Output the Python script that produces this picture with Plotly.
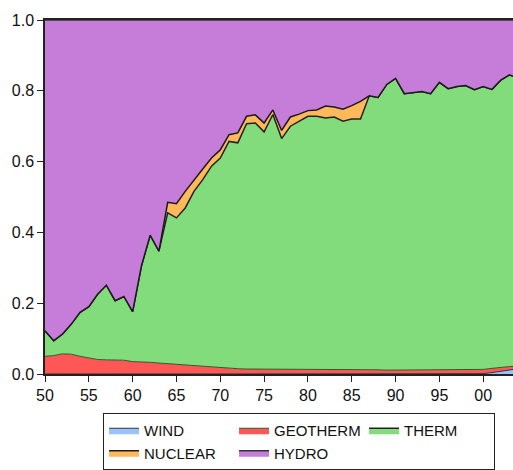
import plotly.graph_objects as go

years = list(range(1950, 2005))

wind = [0.0] * 50 + [0.001, 0.004, 0.008, 0.012, 0.015]

geotherm = [0.050, 0.052, 0.057, 0.056, 0.050, 0.045, 0.041, 0.040, 0.040, 0.039,
            0.035, 0.035, 0.033, 0.031, 0.029, 0.027, 0.025, 0.024, 0.022, 0.019,
            0.017, 0.016, 0.015, 0.014, 0.014, 0.014, 0.014, 0.013, 0.013, 0.013,
            0.013, 0.013, 0.012, 0.012, 0.012, 0.012, 0.012, 0.012, 0.012, 0.011,
            0.011, 0.011, 0.011, 0.011, 0.011, 0.011, 0.011, 0.012, 0.012, 0.013,
            0.012, 0.012, 0.011, 0.009, 0.007]

therm = [0.072, 0.042, 0.056, 0.085, 0.124, 0.145, 0.184, 0.211, 0.167, 0.180,
         0.141, 0.270, 0.359, 0.316, 0.426, 0.414, 0.444, 0.492, 0.527, 0.568,
         0.593, 0.641, 0.638, 0.693, 0.695, 0.670, 0.719, 0.652, 0.687, 0.702,
         0.715, 0.715, 0.711, 0.714, 0.702, 0.708, 0.708, 0.774, 0.769, 0.807,
         0.824, 0.781, 0.784, 0.787, 0.781, 0.813, 0.795, 0.800, 0.803, 0.790,
         0.799, 0.788, 0.811, 0.824, 0.813]

nuclear = [0.0] * 14 + [0.030, 0.040, 0.047, 0.033, 0.030, 0.023, 0.023, 0.019, 0.028,
                        0.021, 0.023, 0.025, 0.013, 0.023, 0.026, 0.019, 0.016, 0.018,
                        0.034, 0.028, 0.034, 0.038, 0.050] + [0.0] * 18

hydro = [0.878, 0.906, 0.887, 0.859, 0.826, 0.810, 0.775, 0.749, 0.793, 0.781,
         0.824, 0.695, 0.608, 0.653, 0.515, 0.519, 0.484, 0.451, 0.421, 0.390,
         0.367, 0.324, 0.319, 0.272, 0.268, 0.291, 0.254, 0.312, 0.274, 0.266,
         0.256, 0.254, 0.243, 0.246, 0.252, 0.242, 0.230, 0.214, 0.219, 0.182,
         0.165, 0.208, 0.205, 0.202, 0.208, 0.176, 0.194, 0.188, 0.185, 0.197,
         0.188, 0.196, 0.170, 0.155, 0.165]

x_tickvals = [1950, 1955, 1960, 1965, 1970, 1975, 1980, 1985, 1990, 1995, 2000]
x_ticktext = ["50", "55", "60", "65", "70", "75", "80", "85", "90", "95", "00"]
y_tickvals = [0.0, 0.2, 0.4, 0.6, 0.8, 1.0]
y_ticktext = ["0.0", "0.2", "0.4", "0.6", "0.8", "1.0"]

series = [
    ("WIND", wind, "#99c2ff", "#333333", 1.0),
    ("GEOTHERM", geotherm, "#ff5656", "#2d5a2d", 1.0),
    ("THERM", therm, "#83dc7b", "#222222", 1.5),
    ("NUCLEAR", nuclear, "#ffb95a", "#1a1a1a", 1.5),
    ("HYDRO", hydro, "#c67dd9", "#333333", 1.5),
]

fig = go.Figure()
for name, vals, fill, lc, lw in series:
    fig.add_trace(go.Scatter(
        x=years, y=vals, name=name, mode="lines",
        stackgroup="one", fillcolor=fill,
        line=dict(color=lc, width=lw),
    ))

font = "Liberation Sans, Arial, sans-serif"
fig.update_layout(
    width=513, height=470,
    margin=dict(l=45, r=0, t=20, b=95),
    plot_bgcolor="white", paper_bgcolor="white",
    font=dict(family=font, size=16, color="#111111"),
    showlegend=True,
    legend=dict(
        orientation="h", x=0.124, y=-0.11, xanchor="left", yanchor="top",
        bordercolor="#222222", borderwidth=1, bgcolor="white",
        font=dict(family=font, size=15, color="#111111"),
        entrywidth=85, entrywidthmode="pixels", itemwidth=30,
        traceorder="normal", tracegroupgap=0,
    ),
    xaxis=dict(
        range=[1950, 2003.4], tickmode="array", tickvals=x_tickvals, ticktext=x_ticktext,
        showgrid=False, zeroline=False, showline=True, linecolor="#222222", linewidth=1.5,
        mirror=True, ticks="outside", ticklen=6, tickcolor="#222222", tickwidth=1,
        tickfont=dict(size=16),
    ),
    yaxis=dict(
        range=[0, 1], tickmode="array", tickvals=y_tickvals, ticktext=y_ticktext,
        showgrid=False, zeroline=False, showline=True, linecolor="#222222", linewidth=1.5,
        ticks="outside", ticklen=6, tickcolor="#222222", tickwidth=1,
        tickfont=dict(size=16),
    ),
)

fig.write_html("out.html")
